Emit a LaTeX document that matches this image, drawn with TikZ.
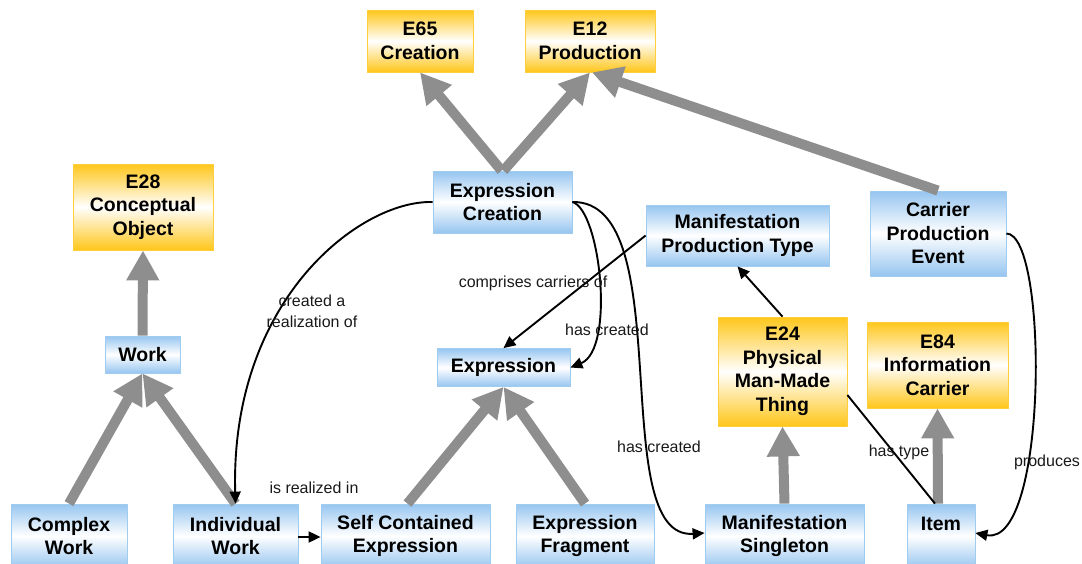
\documentclass[tikz,border=0pt]{standalone}
\usepackage{fontspec}
\setmainfont{Liberation Sans}
\usetikzlibrary{arrows.meta}
\definecolor{bluebox}{RGB}{150,197,240}
\definecolor{blueedge}{RGB}{160,204,240}
\definecolor{orbox}{RGB}{255,198,26}
\definecolor{oredge}{RGB}{255,206,60}
\definecolor{inhgray}{RGB}{142,142,142}
\tikzset{
  box/.style={rectangle, inner sep=0pt, align=center,
    font=\fontsize{19.5}{23.5}\selectfont\bfseries, line width=0.8pt},
  bluenode/.style={box, draw=blueedge, top color=bluebox, bottom color=bluebox, middle color=white},
  ornode/.style={box, draw=oredge, top color=orbox, bottom color=orbox, middle color=white},
  inh/.style={draw=inhgray, line width=10pt, -{Triangle[length=30pt,width=31pt]}, color=inhgray},
  rel/.style={draw=black, line width=1.9pt, -{Triangle[length=12pt,width=11pt]}},
  plainrel/.style={draw=black, line width=1.9pt},
  lbl/.style={font=\fontsize{16}{21}\selectfont, align=center, inner sep=0pt, text=black!90}
}
\begin{document}
\begin{tikzpicture}[x=1pt,y=-1pt]
\useasboundingbox (0,0) rectangle (1082,563);
% nodes
\node[ornode, minimum width=106pt, minimum height=62pt] (e65) at (420,41) {E65\\Creation};
\node[ornode, minimum width=130pt, minimum height=62pt] (e12) at (590,41) {E12\\Production};
\node[ornode, minimum width=140pt, minimum height=86pt] (e28) at (143,207) {E28\\Conceptual\\Object};
\node[bluenode, minimum width=75pt, minimum height=37pt] (work) at (142.5,354.5) {Work};
\node[bluenode, minimum width=139pt, minimum height=62pt] (exc) at (502.5,202) {Expression\\Creation};
\node[bluenode, minimum width=183pt, minimum height=61pt] (mpt) at (737.5,235.5) {Manifestation\\Production Type};
\node[bluenode, minimum width=136pt, minimum height=85pt] (cpe) at (938,233.5) {Carrier\\Production\\Event};
\node[bluenode, minimum width=133pt, minimum height=38pt] (expr) at (503.5,367.5) {Expression};
\node[ornode, minimum width=129pt, minimum height=109pt] (e24) at (782.5,371.5) {E24\\Physical\\Man-Made\\Thing};
\node[ornode, minimum width=141pt, minimum height=86pt] (e84) at (937.5,365) {E84\\Information\\Carrier};
\node[bluenode, minimum width=116pt, minimum height=64pt] (cw) at (69,536) {Complex\\Work};
\node[bluenode, minimum width=125pt, minimum height=64pt] (iw) at (235.5,536) {Individual\\Work};
\node[bluenode, minimum width=169pt, minimum height=64pt] (sce) at (405.5,536) {Self Contained\\Expression};
\node[bluenode, minimum width=138pt, minimum height=64pt] (ef) at (585,536) {Expression\\Fragment};
\node[bluenode, minimum width=159pt, minimum height=64pt] (ms) at (784.5,536) {Manifestation\\Singleton};
\node[bluenode, minimum width=68pt, minimum height=64pt] (item) at (941,536) {Item\\\phantom{I}};
% inheritance arrows
\draw[inh] ([xshift=-1pt]exc.north) -- (e65.south);
\draw[inh] ([xshift=1pt]exc.north) -- (e12.south);
\draw[inh] (cpe.north) -- ([xshift=2pt]e12.south);
\draw[inh] (work.north) -- (e28.south);
\draw[inh] (cw.north) -- (work.south);
\draw[inh] (iw.north) -- (work.south);
\draw[inh] ([xshift=2pt]sce.north) -- (expr.south);
\draw[inh] (ef.north) -- (expr.south);
\draw[inh] (ms.north) -- (e24.south);
\draw[inh] ([xshift=-3pt]item.north) -- (e84.south);
% relations
\draw[rel] (exc.west) .. controls (360,200) and (230,300) .. (iw.north);
\draw[rel] ([yshift=-1pt]iw.east) -- ([yshift=-1pt]sce.west);
\draw[rel] (exc.east) .. controls +(28,8) and +(45,-18) .. (expr.east);
\draw[rel] (exc.east) .. controls +(108,-2) and +(-100,7) .. ([yshift=3pt]ms.west);
\draw[rel] (mpt.west) -- (expr.north);
\draw[rel] (e24.north) -- (mpt.south);
\draw[plainrel] ([yshift=-23.5pt]e24.east) -- ([xshift=-6pt]item.north);
\draw[rel] (cpe.east) .. controls +(42,0) and +(73,14) .. ([yshift=3pt]item.east);
% labels
\node[lbl] (l1) at (312,311) {created a\\realization of};
\node[lbl] (l2) at (314,488) {is realized in};
\node[lbl] (l3) at (533,283) {comprises carriers of};
\node[lbl] (l4) at (607,330) {has created};
\node[lbl] (l5) at (659,447) {has created};
\node[lbl] (l6) at (899,452) {has type};
\node[lbl] (l7) at (1047,462) {produces};
\end{tikzpicture}
\end{document}
